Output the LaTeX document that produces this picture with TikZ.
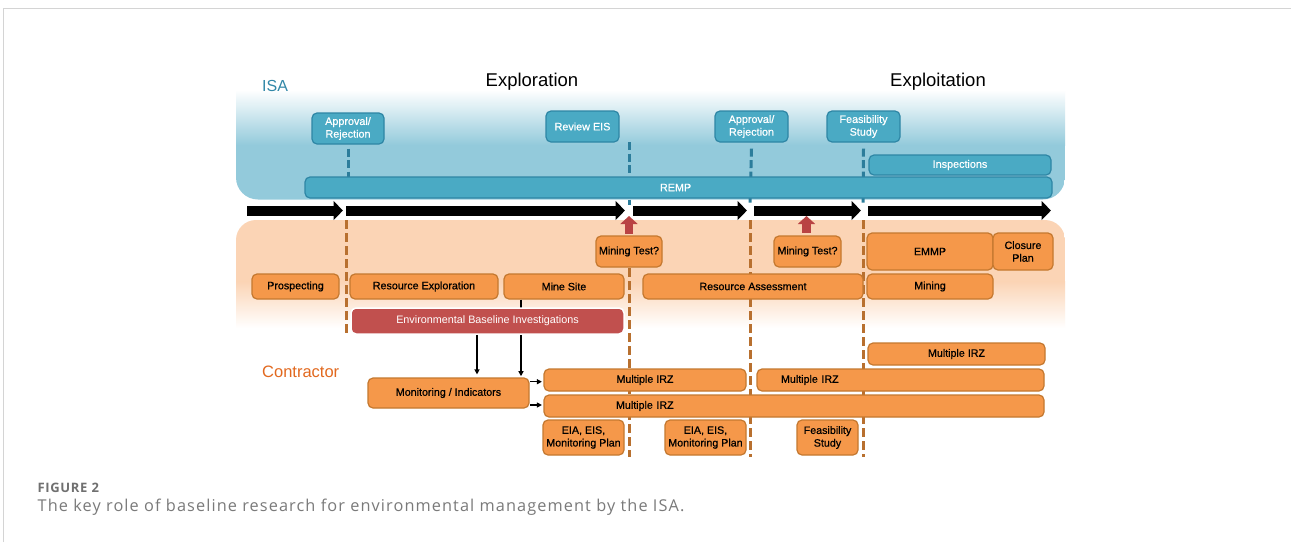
\documentclass[tikz,border=0pt]{standalone}
\usepackage{fontspec}
\setmainfont{Liberation Sans}
\newfontfamily\capfont[LetterSpace=6.7]{Open Sans}
\newfontfamily\figfont[LetterSpace=5]{Open Sans}
\newfontfamily\boxfont[FakeBold=0.6]{Liberation Sans}
\usetikzlibrary{arrows.meta}
\definecolor{isabg}{HTML}{93CADB}
\definecolor{isabox}{HTML}{4AAAC4}
\definecolor{isaedge}{HTML}{2E86A5}
\definecolor{isadash}{HTML}{2C7D9B}
\definecolor{isatext}{HTML}{3288A8}
\definecolor{peach}{HTML}{FBD4B5}
\definecolor{orfill}{HTML}{F5984A}
\definecolor{oredge}{HTML}{C4782F}
\definecolor{ordash}{HTML}{B8702F}
\definecolor{ebired}{HTML}{C1504E}
\definecolor{uparrowc}{HTML}{B94343}
\definecolor{contr}{HTML}{E2691F}
\definecolor{framec}{HTML}{D4D4D4}
\definecolor{capgray}{HTML}{7A7A7A}
\definecolor{figgray}{HTML}{707070}
\newcommand\mkbox[8][]{\node[#3,#1,minimum width={(#6-#4)*1pt},minimum height={(#7-#5)*1pt}] (#2) at ({(#4+#6)/2},{(#5+#7)/2}) {#8};}
\tikzset{
  isab/.style={rounded corners=5pt, fill=isabox, draw=isaedge, line width=1.2pt, text=white, inner sep=0pt, align=center, font=\boxfont\fontsize{10.8}{12.7}\selectfont},
  orb/.style={rounded corners=5pt, fill=orfill, draw=oredge, line width=1.2pt, text=black, inner sep=0pt, align=center, font=\boxfont\fontsize{10.7}{12.7}\selectfont},
  ebib/.style={rounded corners=5pt, fill=ebired, draw=white, line width=1.5pt, text=white, inner sep=0pt, align=center, font=\fontsize{10.8}{12.7}\selectfont},
  bdash/.style={draw=isadash, line width=3pt, dash pattern=on 8pt off 3.5pt},
  odash/.style={draw=ordash, line width=3pt, dash pattern=on 9pt off 4pt},
  tl/.style={draw=black, line width=10pt, -{Triangle[length=9.5pt,width=18.5pt]}},
  upa/.style={draw=uparrowc, line width=8.5pt, -{Triangle[length=8pt,width=17pt]}},
  thin/.style={draw=black, line width=1.3pt, -{Triangle[length=5pt,width=5pt]}},
}
\begin{document}
\begin{tikzpicture}[x=1pt,y=-1pt]
\useasboundingbox (0,0) rectangle (1291,542);
\fill[white] (0,0) rectangle (1291,542);
\draw[framec, line width=1pt] (3,542) -- (3,8) -- (1291,8);
% ISA background
\begin{scope}
\clip[rounded corners=22pt] (236,60) rectangle (1065,199.5);
\shade[top color=white, bottom color=isabg] (236,90) rectangle (1065,145);
\fill[isabg] (236,144.5) rectangle (1065,200);
\end{scope}
% Contractor background
\begin{scope}
\clip[rounded corners=20pt] (236,220) rectangle (1065,400);
\fill[peach] (236,219) rectangle (1065,282);
\shade[top color=peach, bottom color=white] (236,281.5) rectangle (1065,328);
\end{scope}
% titles
\node[anchor=west, text=isatext, font=\fontsize{16}{18}\selectfont, inner sep=0pt] (isa) at (262,86) {ISA};
\node[font=\fontsize{18.5}{20}\selectfont, inner sep=0pt] (expl) at (532,81.5) {Exploration};
\node[font=\fontsize{18.5}{20}\selectfont, inner sep=0pt] (expt) at (938,81.5) {Exploitation};
\node[anchor=west, text=contr, font=\fontsize{16.5}{18}\selectfont, inner sep=0pt] (contr) at (262,372) {Contractor};
% coordinates for dashed lines
\coordinate (bd2a) at (629,142); \coordinate (bd2b) at (629,205);
\coordinate (od1a) at (346,220); \coordinate (od1b) at (346,335);
\coordinate (od2a) at (629,268); \coordinate (od2b) at (629,457);
\coordinate (od3a) at (750,220); \coordinate (od3b) at (750,457);
\coordinate (od4a) at (863,220); \coordinate (od4b) at (863,457);
\coordinate (bd3b) at (750,205); \coordinate (bd4b) at (863,205);
% ISA boxes
\mkbox{ap1}{isab}{312}{113}{384}{144}{Approval/\\Rejection}
\mkbox{rev}{isab}{546}{111}{619}{142}{Review EIS}
\mkbox{ap2}{isab}{715}{111}{788}{142}{Approval/\\Rejection}
\mkbox{fs1}{isab}{827}{111}{900}{142}{Feasibility\\Study}
% dashed lines (behind boxes)
\draw[bdash] ([yshift=-4pt]ap1.south) -- (ap1.south |- 0,180);
\draw[bdash] (bd2a) -- (bd2b);
\draw[bdash] ([yshift=-6pt]ap2.south) -- (bd3b);
\draw[bdash] ([yshift=-6pt]fs1.south) -- (bd4b);
\draw[odash] (od1a) -- (od1b);
\draw[odash] (od2a) -- (od2b);
\draw[odash] (od3a) -- (od3b);
\draw[odash] (od4a) -- (od4b);
\mkbox{insp}{isab}{869}{155}{1051}{175}{Inspections}
\mkbox[text width={(1052-305)*1pt}, align=left]{remp}{isab}{305}{177}{1052}{198}{\hspace*{355pt}REMP}
% timeline
\coordinate (t1a) at (247,210.5); \coordinate (t1b) at (343,210.5);
\coordinate (t2a) at (346,210.5); \coordinate (t2b) at (625,210.5);
\coordinate (t3a) at (633,210.5); \coordinate (t3b) at (747,210.5);
\coordinate (t4a) at (754,210.5); \coordinate (t4b) at (861,210.5);
\coordinate (t5a) at (868,210.5); \coordinate (t5b) at (1051,210.5);
\draw[tl] (t1a) -- (t1b);
\draw[tl] (t2a) -- (t2b);
\draw[tl] (t3a) -- (t3b);
\draw[tl] (t4a) -- (t4b);
\draw[tl] (t5a) -- (t5b);
% contractor boxes
\mkbox{mt1}{orb}{596}{236}{662}{267}{Mining Test?}
\mkbox{mt2}{orb}{774}{236}{841}{267}{Mining Test?}
\mkbox{emmp}{orb}{867}{233}{993}{270}{EMMP}
\mkbox{clos}{orb}{993}{233}{1053}{270}{Closure\\Plan}
\mkbox{pros}{orb}{252}{274}{339}{299}{Prospecting}
\mkbox{rexp}{orb}{350}{274}{498}{299}{Resource Exploration}
\mkbox{mine}{orb}{504}{274}{624}{299}{Mine Site}
\mkbox{rass}{orb}{643}{274}{863}{299}{Resource Assessment}
\mkbox{minin}{orb}{867}{274}{993}{299}{Mining}
% red arrows
\coordinate (u1) at (629,216);
\coordinate (u2) at (806.5,216);
\draw[upa] (mt1.north |- 0,233.5) -- (u1);
\draw[upa] (mt2.north -| u2) ++(0,-2.5) -- (u2);
% arrow from mine site behind EBI
\draw[thin, shorten >=1.5pt] (mine.south -| 521,0) -- (521,377.7);
\mkbox{ebi}{ebib}{351}{308}{624}{334}{Environmental Baseline Investigations}
\mkbox{irzt}{orb}{868}{343}{1045}{365}{Multiple IRZ}
\mkbox{irza}{orb}{544}{369}{746}{391}{Multiple IRZ}
\mkbox[text width={(1044-757)*1pt}, align=left]{irzb}{orb}{757}{369}{1044}{391}{\hspace*{24pt}Multiple IRZ}
\mkbox[text width={(1044-544)*1pt}, align=left]{irzc}{orb}{544}{395}{1044}{417}{\hspace*{72pt}Multiple IRZ}
\mkbox{mon}{orb}{368}{378}{529}{408}{Monitoring / Indicators}
\mkbox{eia1}{orb}{543}{420}{624}{455}{EIA, EIS,\\Monitoring Plan}
\mkbox{eia2}{orb}{665}{420}{746}{455}{EIA, EIS,\\Monitoring Plan}
\mkbox{fs2}{orb}{797}{420}{858}{455}{Feasibility\\Study}
% thin arrows
\draw[thin, shorten >=3pt] (ebi.south -| 477,0) -- (mon.north -| 477,0);
\draw[thin, shorten >=1.5pt] (mon.east |- 0,381.7) -- (irza.west |- 0,381.7);
\draw[thin, shorten >=1.5pt] (mon.east |- 0,405) -- (irzc.west |- 0,405);
% caption
\node[anchor=west, inner sep=0pt, text=figgray, font=\figfont\bfseries\fontsize{13}{15}\selectfont] (fig) at (37.5,488) {FIGURE 2};
\node[anchor=west, inner sep=0pt, text=capgray, font=\capfont\fontsize{16.3}{19}\selectfont] (cap) at (37.5,507.5) {The key role of baseline research for environmental management by the ISA.};
\end{tikzpicture}
\end{document}
